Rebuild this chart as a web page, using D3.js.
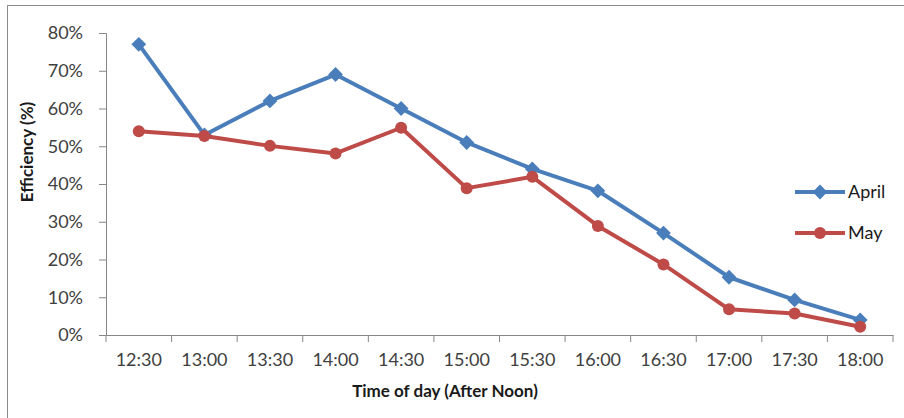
<!DOCTYPE html>
<html>
<head>
<meta charset="utf-8">
<script src="https://cdn.jsdelivr.net/npm/d3@7"></script>
<style>
    body { margin: 0; background: #fff; }
    svg text { font-family: Lato, "Open Sans", sans-serif; }
</style>
</head>
<body>
<div id="chart"></div>
<script>
//DATA
let times = ['12:30','13:00','13:30','14:00','14:30','15:00','15:30','16:00','16:30','17:00','17:30','18:00'];
let april = [77, 53, 62, 69, 60, 51, 44, 38.2, 27, 15.3, 9.3, 4];
let may = [54, 52.7, 50.1, 48.1, 54.9, 38.9, 41.9, 28.9, 18.7, 6.8, 5.7, 2.2];
let yTicks = [0, 10, 20, 30, 40, 50, 60, 70, 80];
let seriesNames = ['April', 'May'];
let colors = ['#4A7EBB', '#BE4B48'];

//INIT
let width = 904, height = 418;
let margin = {top: 33, right: 11, bottom: 83, left: 106};

let svg = d3.select('#chart')
    .append('svg')
        .attr('width', width)
        .attr('height', height);

//Outer frame (right/bottom edges fall outside the picture)
svg.append('rect')
    .attr('x', 7.5).attr('y', 5.5)
    .attr('width', 1000).attr('height', 1000)
    .attr('fill', 'none')
    .attr('stroke', '#8c8c8c');

let x = d3.scaleBand()
    .domain(times)
    .range([margin.left, width - margin.right])
    .padding(0);

let y = d3.scaleLinear()
    .domain([0, 80])
    .range([height - margin.bottom, margin.top]);

let xc = function(d) { return x(d) + x.bandwidth() / 2; };

//Y Axis
let yAxis = svg.append('g')
    .attr('transform', 'translate(' + margin.left + ',0)')
    .call(d3.axisLeft(y).tickValues(yTicks).tickSize(7).tickPadding(16)
        .tickFormat(function(d) { return d + '%'; }));
yAxis.select('.domain').attr('stroke', '#868686').attr('stroke-width', 1);
yAxis.selectAll('.tick line').attr('stroke', '#868686');
yAxis.selectAll('.tick text')
    .attr('font-size', 18)
    .attr('fill', '#404040')
    .style('font-family', 'Lato, sans-serif');

//X Axis (labels centred in bands, ticks on band edges)
let xAxis = svg.append('g')
    .attr('transform', 'translate(0,' + y(0) + ')')
    .call(d3.axisBottom(x).tickSize(0).tickPadding(18));
xAxis.select('.domain').attr('stroke', '#868686');
xAxis.selectAll('.tick text')
    .attr('font-size', 18)
    .attr('fill', '#404040');

let edges = times.map(function(d) { return x(d); }).concat([x.range()[1]]);
xAxis.selectAll('.edge')
    .data(edges)
    .enter()
    .append('line')
    .attr('class', 'edge')
    .attr('x1', function(d) { return d; })
    .attr('x2', function(d) { return d; })
    .attr('y1', 0)
    .attr('y2', 7)
    .attr('stroke', '#868686');

//Axis titles
svg.append('text')
    .attr('x', 445)
    .attr('y', 397)
    .attr('text-anchor', 'middle')
    .attr('font-size', 17)
    .attr('font-weight', 'bold')
    .attr('fill', '#1a1a1a')
    .text('Time of day (After Noon)');

svg.append('text')
    .attr('transform', 'translate(33,152) rotate(-90)')
    .attr('text-anchor', 'middle')
    .attr('font-size', 17)
    .attr('font-weight', 'bold')
    .attr('fill', '#1a1a1a')
    .text('Efficiency (%)');

//Lines
let line = d3.line()
    .x(function(d, i) { return xc(times[i]); })
    .y(function(d) { return y(d); });

let allSeries = [april, may];
let diamond = d3.symbol().type(d3.symbolDiamond2).size(140);

allSeries.forEach(function(vals, s) {
    svg.append('path')
        .datum(vals)
        .attr('fill', 'none')
        .attr('stroke', colors[s])
        .attr('stroke-width', 4)
        .attr('stroke-linejoin', 'round')
        .attr('d', line);

    let pts = svg.selectAll('.pt' + s)
        .data(vals)
        .enter();
    if (s === 0) {
        pts.append('path')
            .attr('class', 'pt' + s)
            .attr('d', diamond)
            .attr('transform', function(d, i) {
                return 'translate(' + xc(times[i]) + ',' + y(d) + ')';
            })
            .attr('fill', colors[s]);
    } else {
        pts.append('circle')
            .attr('class', 'pt' + s)
            .attr('cx', function(d, i) { return xc(times[i]); })
            .attr('cy', function(d) { return y(d); })
            .attr('r', 6)
            .attr('fill', colors[s]);
    }
});

//Legend
let legend = svg.append('g').attr('transform', 'translate(795,192)');
seriesNames.forEach(function(name, s) {
    let g = legend.append('g').attr('transform', 'translate(0,' + (s * 41) + ')');
    g.append('line')
        .attr('x1', 0).attr('x2', 50)
        .attr('stroke', colors[s])
        .attr('stroke-width', 4);
    if (s === 0) {
        g.append('path').attr('d', diamond).attr('transform', 'translate(25,0)').attr('fill', colors[s]);
    } else {
        g.append('circle').attr('cx', 25).attr('r', 6).attr('fill', colors[s]);
    }
    g.append('text')
        .attr('x', 53)
        .attr('y', 0)
        .attr('dy', '0.35em')
        .attr('font-size', 18)
        .attr('fill', '#1a1a1a')
        .text(name);
});
</script>
</body>
</html>
